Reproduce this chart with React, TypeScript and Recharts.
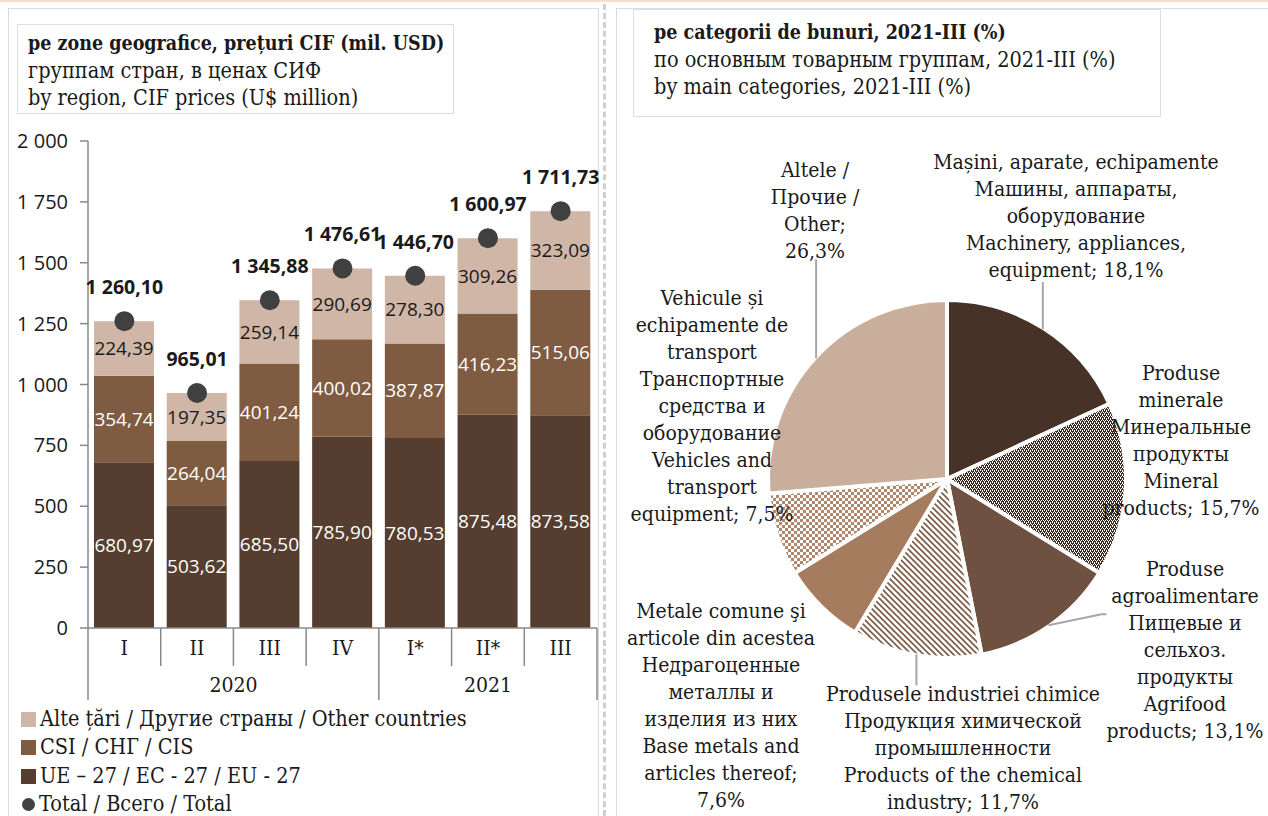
import React from 'react';
import { ComposedChart, Bar, Line, XAxis, YAxis, LabelList, PieChart, Pie, Cell } from 'recharts';

// left panel: imports by region, quarterly
const quarters = ['I', 'II', 'III', 'IV', 'I*', 'II*', 'III'];
const years = ['2020', '2020', '2020', '2020', '2021', '2021', '2021'];
const euValues = [680.97, 503.62, 685.5, 785.9, 780.53, 875.48, 873.58];
const cisValues = [354.74, 264.04, 401.24, 400.02, 387.87, 416.23, 515.06];
const otherValues = [224.39, 197.35, 259.14, 290.69, 278.3, 309.26, 323.09];
const totalValues = [1260.1, 965.01, 1345.88, 1476.61, 1446.7, 1600.97, 1711.73];
const yTicks = [0, 250, 500, 750, 1000, 1250, 1500, 1750, 2000];

// right panel: structure by goods category, 2021-III
const pieNames = ['machinery', 'mineral', 'agrifood', 'chemical', 'metals', 'vehicles', 'other'];
const pieValues = [18.1, 15.7, 13.1, 11.7, 7.6, 7.5, 26.3];
const pieLabels = [
  ['Mașini, aparate, echipamente', 'Машины, аппараты,', 'оборудование', 'Machinery, appliances,', 'equipment; 18,1%'],
  ['Produse', 'minerale', 'Минеральные', 'продукты', 'Mineral', 'products; 15,7%'],
  ['Produse', 'agroalimentare', 'Пищевые и', 'сельхоз.', 'продукты', 'Agrifood', 'products; 13,1%'],
  ['Produsele industriei chimice', 'Продукция химической', 'промышленности', 'Products of the chemical', 'industry; 11,7%'],
  ['Metale comune şi', 'articole din acestea', 'Недрагоценные', 'металлы и', 'изделия из них', 'Base metals and', 'articles thereof;', '7,6%'],
  ['Vehicule și', 'echipamente de', 'transport', 'Транспортные', 'средства и', 'оборудование', 'Vehicles and', 'transport', 'equipment; 7,5%'],
  ['Altele /', 'Прочие /', 'Other;', '26,3%'],
];

const SERIF = '"DejaVu Serif Condensed", "Liberation Serif", serif';
const SANS = '"Open Sans", sans-serif';
const INK = '#1a1a1a';
const AXIS = '#888888';

const C_EU = '#553e2f';
const C_CIS = '#7f5b41';
const C_OTHER = '#cfb6a6';
const C_DOT = '#404040';

const sliceFills = ['#463226', 'url(#pMineral)', '#6e5140', 'url(#pChem)', '#a57c5e', 'url(#pCheck)', '#c9ae9b'];

// label placement relative to pie centre, leader = offsets from slice edge
const labelLayout = [
  { dx: 129, dy: -317, leader: [[0, -47]] },
  { dx: 234, dy: -106, leader: null },
  { dx: 238, dy: 90, leader: [[53, -11], [58, -11]] },
  { dx: 16, dy: 215, leader: [[0, 31]] },
  { dx: -226, dy: 132, leader: null },
  { dx: -235, dy: -181, leader: null },
  { dx: -132, dy: -309, leader: [[0, -99]] },
];

const CHART_W = 600;
const CHART_H = 720;
const Y_W = 88;
const M_RIGHT = 3;
const PLOT_TOP = 141;
const PLOT_BOTTOM = 628;
const PLOT_W = CHART_W - Y_W - M_RIGHT;

const data = quarters.map((q, i) => ({
  key: years[i] + '-' + q,
  eu: euValues[i],
  cis: cisValues[i],
  other: otherValues[i],
  total: totalValues[i],
}));

const pieData = pieNames.map((n, i) => ({ name: n, value: pieValues[i] }));

const fmt = (v: number) => {
  const [a, b] = v.toFixed(2).split('.');
  return a.replace(/\B(?=(\d{3})+(?!\d))/g, ' ') + ',' + b;
};
const fmtTick = (v: number) => String(v).replace(/\B(?=(\d{3})+(?!\d))/g, ' ');

const QuarterTick = (props: any) => {
  const { x, payload } = props;
  const i = payload.index;
  const band = PLOT_W / quarters.length;
  const left = x - band / 2;
  const groupStart = i === 0 || years[i] !== years[i - 1];
  const last = i === quarters.length - 1;
  let yearLabel = null;
  if (groupStart) {
    let end = i;
    while (end + 1 < years.length && years[end + 1] === years[i]) end++;
    yearLabel = (
      <text x={x + ((end - i) * band) / 2} y={692} textAnchor="middle" fontFamily={SERIF} fontSize={21} fill={INK}>
        {years[i]}
      </text>
    );
  }
  return (
    <g>
      <line x1={left} x2={left} y1={PLOT_BOTTOM} y2={groupStart ? 700 : 666} stroke={AXIS} strokeWidth={1.5} />
      {last && <line x1={left + band} x2={left + band} y1={PLOT_BOTTOM} y2={700} stroke={AXIS} strokeWidth={1.5} />}
      <text x={x} y={655} textAnchor="middle" fontFamily={SERIF} fontSize={21} fill={INK}>
        {quarters[i]}
      </text>
      {yearLabel}
    </g>
  );
};

const TotalLabel = (p: any) => (
  <text x={p.x} y={p.y - 27} textAnchor="middle" fontFamily={SANS} fontWeight={700} fontSize={19.5} fill={INK}>
    {fmt(p.value)}
  </text>
);

const renderPieLabel = (props: any) => {
  const { cx, cy, midAngle, index } = props;
  const lay = labelLayout[index];
  const RAD = Math.PI / 180;
  const r = 178;
  const ex = cx + r * Math.cos(-midAngle * RAD);
  const ey = cy + r * Math.sin(-midAngle * RAD);
  const pts = lay.leader ? [[ex, ey], ...lay.leader.map(([dx, dy]) => [ex + dx, ey + dy])] : null;
  return (
    <g key={'lbl-' + index}>
      {pts && <polyline points={pts.map((p) => p.join(',')).join(' ')} fill="none" stroke="#a6a6a6" strokeWidth={2} />}
      <text textAnchor="middle" fontFamily={SERIF} fontSize={21} fill={INK}>
        {pieLabels[index].map((line, k) => (
          <tspan key={k} x={cx + lay.dx} y={cy + lay.dy + k * 27 + 7}>
            {line}
          </tspan>
        ))}
      </text>
    </g>
  );
};

const legendItems = [
  { label: 'Alte țări / Другие страны / Other countries', color: C_OTHER, dot: false },
  { label: 'CSI / СНГ / CIS', color: C_CIS, dot: false },
  { label: 'UE – 27 / EC - 27 / EU - 27', color: C_EU, dot: false },
  { label: 'Total / Всего / Total', color: C_DOT, dot: true },
];

const titleBox: React.CSSProperties = {
  position: 'absolute',
  border: '1px solid #dedede',
  background: '#fff',
  fontFamily: SERIF,
  fontSize: 21.5,
  lineHeight: '27px',
  color: INK,
  boxSizing: 'border-box',
  whiteSpace: 'nowrap',
};

export default function App() {
  return (
    <div style={{ position: 'absolute', left: 0, top: 0, width: 1268, height: 816, overflow: 'hidden', background: '#fff' }}>
      <svg width={0} height={0} style={{ position: 'absolute' }}>
        <defs>
          <pattern id="pMineral" width={4} height={4} patternUnits="userSpaceOnUse">
            <rect width={4} height={4} fill="#3f2b20" />
            <rect x={0} y={0} width={1} height={1} fill="#fff" />
            <rect x={2} y={0} width={1} height={1} fill="#fff" />
            <rect x={1} y={1} width={1} height={1} fill="#fff" />
            <rect x={1} y={2} width={1} height={1} fill="#fff" />
            <rect x={3} y={2} width={1} height={1} fill="#fff" />
            <rect x={3} y={3} width={1} height={1} fill="#fff" />
          </pattern>
          <pattern id="pChem" width={6} height={6} patternUnits="userSpaceOnUse">
            <rect width={6} height={6} fill="#fff" />
            <path d="M-1,-1 L7,7 M-1,5 L1,7 M5,-1 L7,1" stroke="#7a5a45" strokeWidth={1.6} />
          </pattern>
          <pattern id="pCheck" width={6} height={6} patternUnits="userSpaceOnUse">
            <rect width={6} height={6} fill="#fff" />
            <rect x={0} y={0} width={3} height={3} fill="#b1876b" />
            <rect x={3} y={3} width={3} height={3} fill="#b1876b" />
          </pattern>
        </defs>
      </svg>

      {/* frame */}
      <div style={{ position: 'absolute', left: 0, top: 0, width: 1268, height: 2, background: '#f6e0cd' }} />
      <div style={{ position: 'absolute', left: 8, top: 8, width: 589, height: 830, border: '1px solid #dcdcdc' }} />
      <div style={{ position: 'absolute', left: 603, top: 4, width: 0, height: 830, borderLeft: '3px dashed #d0d0d0' }} />
      <div style={{ position: 'absolute', left: 616, top: 8, width: 700, height: 830, border: '1px solid #dcdcdc' }} />

      <div style={{ ...titleBox, left: 17, top: 24, width: 437, height: 90, padding: '5px 0 0 10px' }}>
        <div style={{ fontWeight: 700, fontSize: 19.5 }}>pe zone geografice, prețuri CIF (mil. USD)</div>
        <div>группам стран, в ценах СИФ</div>
        <div>by region, CIF prices (U$ million)</div>
      </div>

      <div style={{ ...titleBox, left: 633, top: 9, width: 528, height: 108, padding: '9px 0 0 20px' }}>
        <div style={{ fontWeight: 700, fontSize: 19.5 }}>pe categorii de bunuri, 2021-III (%)</div>
        <div>по основным товарным группам, 2021-III (%)</div>
        <div>by main categories, 2021-III (%)</div>
      </div>

      <div style={{ position: 'absolute', left: 0, top: 0 }}>
        <ComposedChart
          width={CHART_W}
          height={CHART_H}
          data={data}
          margin={{ top: PLOT_TOP, right: M_RIGHT, left: 0, bottom: CHART_H - PLOT_BOTTOM - 72 }}
        >
          <XAxis
            dataKey="key"
            tick={<QuarterTick />}
            tickLine={false}
            axisLine={{ stroke: AXIS, strokeWidth: 1.5 }}
            height={72}
            interval={0}
          />
          <YAxis
            width={Y_W}
            domain={[0, 2000]}
            ticks={yTicks}
            tickFormatter={fmtTick}
            tick={{ fill: INK, fontFamily: SANS, fontSize: 20 }}
            tickSize={8}
            tickMargin={12}
            tickLine={{ stroke: AXIS, strokeWidth: 1.5 }}
            axisLine={{ stroke: AXIS, strokeWidth: 1.5 }}
          />
          <Bar dataKey="eu" stackId="s" fill={C_EU} barSize={60} isAnimationActive={false}>
            <LabelList dataKey="eu" position="center" formatter={(v: any) => fmt(Number(v))} fill="#fff" fontFamily={SANS} fontSize={19} />
          </Bar>
          <Bar dataKey="cis" stackId="s" fill={C_CIS} barSize={60} isAnimationActive={false}>
            <LabelList dataKey="cis" position="center" formatter={(v: any) => fmt(Number(v))} fill="#fff" fontFamily={SANS} fontSize={19} />
          </Bar>
          <Bar dataKey="other" stackId="s" fill={C_OTHER} barSize={60} isAnimationActive={false}>
            <LabelList dataKey="other" position="center" formatter={(v: any) => fmt(Number(v))} fill={INK} fontFamily={SANS} fontSize={19} />
          </Bar>
          <Line
            dataKey="total"
            stroke="none"
            dot={{ r: 10, fill: C_DOT, stroke: 'none' }}
            activeDot={false}
            isAnimationActive={false}
          >
            <LabelList dataKey="total" content={<TotalLabel />} />
          </Line>
        </ComposedChart>
      </div>

      <div style={{ position: 'absolute', left: 21, top: 705, fontFamily: SERIF, fontSize: 21.5, color: INK, lineHeight: '28.4px', whiteSpace: 'nowrap' }}>
        {legendItems.map((it) => (
          <div key={it.label} style={{ display: 'flex', alignItems: 'center' }}>
            <span
              style={{
                display: 'inline-block',
                width: it.dot ? 13 : 15,
                height: it.dot ? 13 : 15,
                borderRadius: it.dot ? '50%' : 0,
                background: it.color,
                marginRight: 4,
                marginLeft: it.dot ? 1 : 0,
              }}
            />
            <span>{it.label}</span>
          </div>
        ))}
      </div>

      <div style={{ position: 'absolute', left: 611, top: 120 }}>
        <PieChart width={657} height={696} margin={{ top: 0, right: 0, bottom: 0, left: 0 }}>
          <Pie
            data={pieData}
            dataKey="value"
            nameKey="name"
            cx={336}
            cy={359}
            outerRadius={179}
            startAngle={90}
            endAngle={-270}
            stroke="#fff"
            strokeWidth={4}
            label={renderPieLabel}
            labelLine={false}
            isAnimationActive={false}
          >
            {pieData.map((d, i) => (
              <Cell key={d.name} fill={sliceFills[i]} />
            ))}
          </Pie>
        </PieChart>
      </div>
    </div>
  );
}
